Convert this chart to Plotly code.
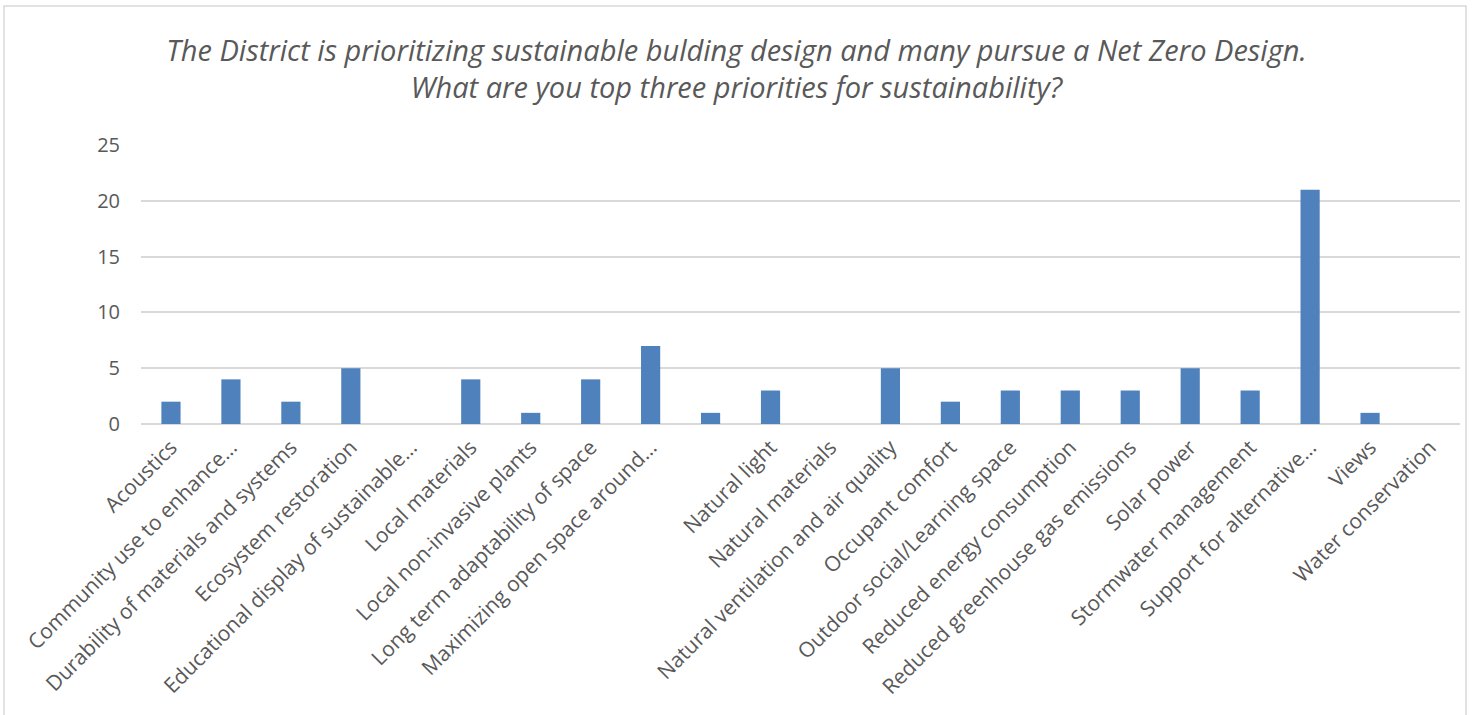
import plotly.graph_objects as go

categories = [
    "Acoustics",
    "Community use to enhance…",
    "Durability of materials and systems",
    "Ecosystem restoration",
    "Educational display of sustainable…",
    "Local materials",
    "Local non-invasive plants",
    "Long term adaptability of space",
    "Maximizing open space around…",
    " ",
    "Natural light",
    "Natural materials",
    "Natural ventilation and air quality",
    "Occupant comfort",
    "Outdoor social/Learning space",
    "Reduced energy consumption",
    "Reduced greenhouse gas emissions",
    "Solar power",
    "Stormwater management",
    "Support for alternative…",
    "Views",
    "Water conservation",
]
values = [2, 4, 2, 5, 0, 4, 1, 4, 7, 1, 3, 0, 5, 2, 3, 3, 3, 5, 3, 21, 1, 0]
y_ticks = [0, 5, 10, 15, 20, 25]

title_text = ("The District is prioritizing sustainable bulding design and many pursue a Net Zero Design."
              "<br>What are you top three priorities for sustainability?")

fig = go.Figure(go.Bar(
    x=categories, y=values,
    marker=dict(color="#4F81BD", line=dict(width=0)),
))

font_family = "Open Sans, Liberation Sans, sans-serif"

fig.update_layout(
    width=1473, height=715,
    margin=dict(l=141, r=13, t=145, b=291),
    paper_bgcolor="white", plot_bgcolor="white",
    bargap=0.68,
    showlegend=False,
    font=dict(family=font_family, color="#595959"),
    title=dict(text=title_text, x=0.5, xanchor="center", y=0.915, yanchor="top",
               font=dict(family=font_family, size=29, color="#595959", style="italic")),
    xaxis=dict(type="category", tickangle=-45, showgrid=False, showline=False,
               ticks="", ticklabelstandoff=6,
               tickfont=dict(family=font_family, size=21, color="#595959")),
    yaxis=dict(range=[0, 25], tickvals=y_ticks, showgrid=True, gridcolor="#D9D9D9",
               gridwidth=1.5, zeroline=True, zerolinecolor="#D9D9D9", zerolinewidth=1.5,
               showline=False, ticks="", ticklabelstandoff=20,
               tickfont=dict(family=font_family, size=20, color="#595959")),
)

fig.add_shape(type="rect", xref="paper", yref="paper",
              x0=(4 - 141) / 1319, x1=(1466 - 141) / 1319,
              y0=-300 / 279, y1=(424 - 6) / 279,
              line=dict(color="#D9D9D9", width=1.5), fillcolor="rgba(0,0,0,0)", layer="below")

fig.write_html("out.html", config={"displayModeBar": False},
               post_script="document.body.style.margin='0';document.body.style.overflow='hidden';")
